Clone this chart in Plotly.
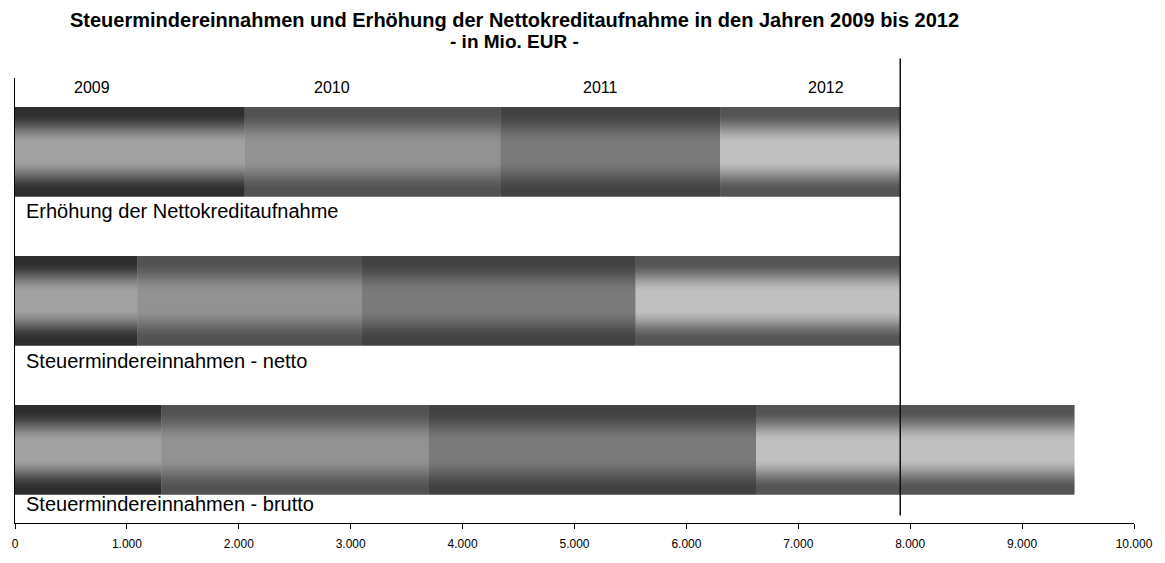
import numpy as np
import plotly.graph_objects as go

# Stacked values per year (Mio. EUR), one entry per bar
bars = ["Steuermindereinnahmen - brutto",
        "Steuermindereinnahmen - netto",
        "Erhöhung der Nettokreditaufnahme"]
years = ["2009", "2010", "2011", "2012"]
v2009 = [1307, 1093, 2053]
v2010 = [2391, 2009, 2285]
v2011 = [2924, 2445, 1964]
v2012 = [2845, 2364, 1609]
xticks = list(range(0, 10001, 1000))

series = [v2009, v2010, v2011, v2012]

# Grey levels (edge, centre) giving each year's cylinder shading
shade = {"2009": (46, 162), "2010": (82, 146), "2011": (66, 122), "2012": (84, 192)}

BAR_W = 0.6
N_STRIPS = 60


def profile(t):
    d = abs(t - 0.5)
    u = np.clip((0.44 - d) / (0.44 - 0.09), 0, 1)
    return u * u * (3 - 2 * u)


fig = go.Figure()

bases = np.zeros(len(bars))
step = BAR_W / N_STRIPS
for year, vals in zip(years, series):
    edge, centre = shade[year]
    for i in range(N_STRIPS):
        t = (i + 0.5) / N_STRIPS
        g = int(round(edge + (centre - edge) * profile(t)))
        col = f"rgb({g},{g},{g})"
        fig.add_trace(go.Bar(
            y=bars, x=vals, base=bases.tolist(), orientation="h",
            width=step * 1.8 if i < N_STRIPS - 1 else step,
            offset=-BAR_W / 2 + i * step,
            marker=dict(color=col, line=dict(width=0)),
            showlegend=False, hoverinfo="skip",
        ))
    bases = bases + np.array(vals)

top_total = float(bases[2])

font = "Liberation Sans, Arial, sans-serif"

annotations = [
    dict(x=0.4467, y=1.131, xref="paper", yref="paper", showarrow=False,
         xanchor="center", yanchor="middle",
         text="<b>Steuermindereinnahmen und Erhöhung der Nettokreditaufnahme in den Jahren 2009 bis 2012</b>",
         font=dict(family=font, size=20, color="#000")),
    dict(x=0.4467, y=1.083, xref="paper", yref="paper", showarrow=False,
         xanchor="center", yanchor="middle",
         text="<b>- in Mio. EUR -</b>",
         font=dict(family=font, size=19, color="#000")),
]
# bar captions below each bar
label_y = {bars[2]: 1.602, bars[1]: 0.598, bars[0]: -0.361}
for b in bars:
    annotations.append(dict(
        x=0, y=label_y[b], xref="x", yref="y", text=b, showarrow=False,
        xanchor="left", yanchor="middle", xshift=9,
        font=dict(family=font, size=20, color="#000"),
    ))
# year captions above the top bar
year_x = [684, 2836, 5236, 7244]
for yr, xx in zip(years, year_x):
    annotations.append(dict(
        x=xx, y=2.43, xref="x", yref="y", text=yr, showarrow=False,
        xanchor="center", yanchor="middle",
        font=dict(family=font, size=16, color="#000"),
    ))

fig.update_layout(
    width=1165, height=563,
    margin=dict(l=12, r=28, t=78, b=27),
    paper_bgcolor="white", plot_bgcolor="white",
    barmode="overlay",
    separators=",.",
    xaxis=dict(
        range=[0, 10000], tickvals=xticks, tickformat=",d",
        showgrid=False, zeroline=False,
        showline=True, linecolor="#000", linewidth=1,
        ticks="outside", ticklen=5, tickcolor="#000",
        ticklabelstandoff=5,
        tickfont=dict(family=font, size=12, color="#000"),
    ),
    yaxis=dict(
        type="category", categoryorder="array", categoryarray=bars,
        range=[-0.49, 2.496],
        showgrid=False, zeroline=False, showticklabels=False,
        showline=True, linecolor="#000", linewidth=1, ticks="",
    ),
    shapes=[dict(
        type="line", xref="x", yref="paper",
        x0=top_total, x1=top_total, y0=0.017, y1=1.044,
        line=dict(color="#111", width=1.5),
    )],
    annotations=annotations,
)

fig.write_html("out.html")
